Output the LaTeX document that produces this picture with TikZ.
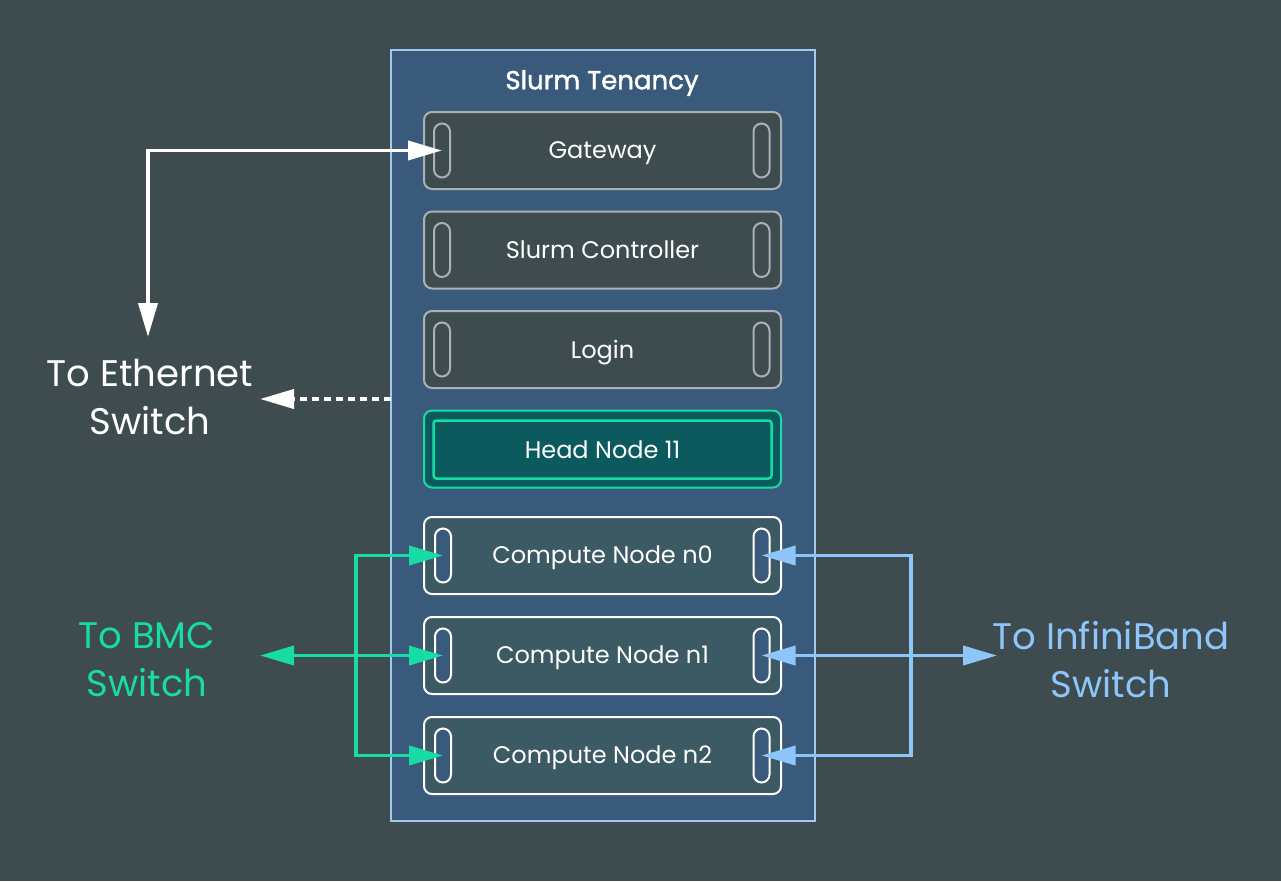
\documentclass[tikz,border=0pt]{standalone}
\usepackage{fontspec}
\setmainfont{Poppins}
\newfontfamily\titlefont{Poppins}[FakeBold=1.5]
\usetikzlibrary{arrows.meta}
\definecolor{bg}{HTML}{3E4C50}
\definecolor{tenfill}{HTML}{3A5A7C}
\definecolor{tenborder}{HTML}{A6C8EE}
\definecolor{graybd}{HTML}{A9B1B5}
\definecolor{cfill}{HTML}{3C5A64}
\definecolor{mint}{HTML}{17DCA5}
\definecolor{headfill}{HTML}{0B5A5E}
\definecolor{ib}{HTML}{8EC5FA}
\begin{document}
\begin{tikzpicture}[x=1pt,y=-1pt,
  >={Triangle[length=34pt,width=19pt]},
  srv/.style={draw=graybd, fill=bg, rounded corners=8pt, minimum width=357pt, minimum height=77pt, line width=2pt, text=white, font=\fontsize{24}{28}\selectfont, inner sep=0pt, text depth=1pt},
  cmp/.style={srv, draw=white, fill=cfill},
  pillg/.style={draw=graybd, fill=bg, rounded corners=8pt, minimum width=16pt, minimum height=54pt, line width=2pt, inner sep=0pt, text depth=0pt},
  pillw/.style={pillg, draw=white, fill=tenfill},
  wline/.style={draw=white, line width=3.8pt},
  gline/.style={draw=mint, line width=3.8pt},
  bline/.style={draw=ib, line width=3.8pt},
  lbl/.style={font=\fontsize{37}{48}\selectfont, align=center, inner sep=0pt}
]
\fill[bg] (0,0) rectangle (1281,881);
\useasboundingbox (0,0) rectangle (1281,881);

% tenancy
\node[draw=tenborder, fill=tenfill, line width=2pt, minimum width=424pt, minimum height=771pt, inner sep=0pt] (ten) at (603,435.5) {};
\node[text=white, font=\fontsize{26}{30}\titlefont] (title) at (602,83) {Slurm Tenancy};

% servers
\node[srv] (gw) at (602.5,150.5) {Gateway};
\node[srv] (ctl) at (602.5,250) {Slurm Controller};
\node[srv] (login) at (602.5,349.5) {Login};
\node[srv, draw=mint, fill=headfill] (head) at (602.5,449) {};
\node[draw=mint, line width=2.5pt, rounded corners=3pt, minimum width=338pt, minimum height=58pt, inner sep=0pt, text=white, font=\fontsize{24}{28}\selectfont] (headin) at (602.5,449.5) {Head Node 11};
\node[cmp] (n0) at (602.5,555.5) {Compute Node n0};
\node[cmp] (n1) at (602.5,655.5) {Compute Node n1};
\node[cmp] (n2) at (602.5,755.5) {Compute Node n2};

% ports
\node[pillg] (gwL) at (442,150.5) {};
\node[pillg] (gwR) at (761.5,150.5) {};
\node[pillg] (ctlL) at (442,250) {};
\node[pillg] (ctlR) at (761.5,250) {};
\node[pillg] (loginL) at (442,349.5) {};
\node[pillg] (loginR) at (761.5,349.5) {};
\node[pillw] (n0L) at (443,555.5) {};
\node[pillw] (n0R) at (761.5,555.5) {};
\node[pillw] (n1L) at (443,655.5) {};
\node[pillw] (n1R) at (761.5,655.5) {};
\node[pillw] (n2L) at (443,755.5) {};
\node[pillw] (n2R) at (761.5,755.5) {};

% labels
\node[lbl, text=white] (eth) at (150,397) {To Ethernet\\Switch};
\node[lbl, text=mint] (bmc) at (147,660) {To BMC\\Switch};
\node[lbl, text=ib] (ibl) at (1111,660) {To InfiniBand\\Switch};

% ethernet connectors
\coordinate (ethtip) at (148,337);
\draw[wline, <->] (ethtip) |- (gwL.center);
\coordinate (dotstart) at (391,399);
\coordinate (dottip) at (260,399);
\draw[wline, dash pattern=on 7pt off 5pt, ->] (dotstart) -- (dottip);

% BMC connectors
\coordinate (gj) at (356,655.5);
\coordinate (bmctip) at (260,655.5);
\draw[gline, ->] (gj) -- (bmctip);
\draw[gline, ->] (gj) |- (n0L.center);
\draw[gline, ->] (gj) -- (n1L.center);
\draw[gline, ->] (gj) |- (n2L.center);

% InfiniBand connectors
\coordinate (bj) at (911,655.5);
\coordinate (ibtip) at (997,655.5);
\draw[bline, <->] (n1R.center) -- (ibtip);
\draw[bline, ->] (bj) |- (n0R.center);
\draw[bline, ->] (bj) |- (n2R.center);
\end{tikzpicture}
\end{document}
